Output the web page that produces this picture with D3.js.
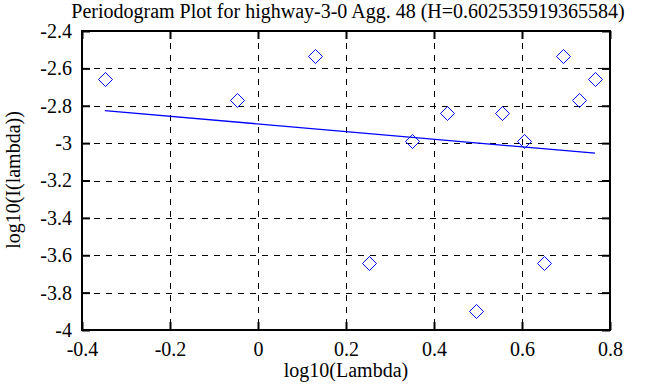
<!DOCTYPE html>
<html>
<head>
<meta charset="utf-8">
<script src="https://cdn.jsdelivr.net/npm/d3@7"></script>
<style>
body { margin: 0; background: #fff; }
</style>
</head>
<body>
<script>
var width = 663
var height = 387
var left = 82, top_ = 31, right = 610, bottom = 330
var fontFam = "Liberation Serif, Times New Roman, serif"

var title = "Periodogram Plot for highway-3-0 Agg. 48 (H=0.602535919365584)"
var logLambda = [-0.348, -0.047, 0.130, 0.253, 0.351, 0.429, 0.495, 0.555, 0.605, 0.651, 0.693, 0.730, 0.766]
var logI = [-2.658, -2.769, -2.534, -3.643, -2.989, -2.837, -3.898, -2.837, -2.987, -3.643, -2.534, -2.769, -2.657]
var fitX = [-0.348, 0.766]
var fitY = [-2.826, -3.054]
var xTicks = [-0.4, -0.2, 0, 0.2, 0.4, 0.6, 0.8]
var yTicks = [-2.4, -2.6, -2.8, -3, -3.2, -3.4, -3.6, -3.8, -4]

var x = d3.scaleLinear().domain([-0.4, 0.8]).range([left, right])
var y = d3.scaleLinear().domain([-4, -2.4]).range([bottom, top_])
var fmt = function(d) { return String(d) }

var svg = d3.select("body").append("svg")
.attr("width", width)
.attr("height", height)

// grid
svg.append("g").selectAll("line")
.data(xTicks.slice(1, -1))
.enter().append("line")
.attr("x1", function(d) { return Math.round(x(d)) + 0.5 })
.attr("x2", function(d) { return Math.round(x(d)) + 0.5 })
.attr("y1", top_).attr("y2", bottom)
.attr("stroke", "black").attr("stroke-dasharray", "6,6")

svg.append("g").selectAll("line")
.data(yTicks.slice(1, -1))
.enter().append("line")
.attr("y1", function(d) { return Math.round(y(d)) + 0.5 })
.attr("y2", function(d) { return Math.round(y(d)) + 0.5 })
.attr("x1", left).attr("x2", right)
.attr("stroke", "black").attr("stroke-dasharray", "6,6")

// inward ticks on all sides
svg.append("g")
.attr("transform", "translate(0," + bottom + ")")
.call(d3.axisBottom(x).tickValues(xTicks).tickSize(-8).tickPadding(12).tickFormat(fmt))
svg.append("g")
.attr("transform", "translate(0," + top_ + ")")
.call(d3.axisTop(x).tickValues(xTicks).tickSize(-8).tickFormat(""))
svg.append("g")
.attr("transform", "translate(" + left + ",0)")
.call(d3.axisLeft(y).tickValues(yTicks).tickSize(-8).tickPadding(10).tickFormat(fmt))
svg.append("g")
.attr("transform", "translate(" + right + ",0)")
.call(d3.axisRight(y).tickValues(yTicks).tickSize(-8).tickFormat(""))

svg.selectAll(".domain").remove()
svg.selectAll("g").attr("font-family", fontFam).attr("font-size", 20)
svg.selectAll(".tick line").attr("stroke", "black").attr("stroke-width", 2)
svg.selectAll(".tick text").attr("fill", "black")

// frame
svg.append("rect")
.attr("x", left).attr("y", top_)
.attr("width", right - left).attr("height", bottom - top_)
.attr("fill", "none").attr("stroke", "black").attr("stroke-width", 2)

// fitted line
svg.append("line")
.attr("x1", x(fitX[0])).attr("y1", y(fitY[0]))
.attr("x2", x(fitX[1])).attr("y2", y(fitY[1]))
.attr("stroke", "blue").attr("stroke-width", 1.3)

// diamonds
svg.append("g").selectAll("path")
.data(logLambda)
.enter().append("path")
.attr("d", function(d, i) {
    var cx = Math.round(x(d)) + 0.5, cy = Math.round(y(logI[i])) + 0.5, r = 7
    return "M" + cx + "," + (cy - r) + "L" + (cx + r) + "," + cy + "L" + cx + "," + (cy + r) + "L" + (cx - r) + "," + cy + "Z"
})
.attr("fill", "none").attr("stroke", "blue").attr("stroke-width", 1)

svg.append("text")
.attr("x", 348).attr("y", 18)
.attr("text-anchor", "middle")
.attr("font-family", fontFam)
.attr("font-size", 20)
.text(title)

svg.append("text")
.attr("x", 346).attr("y", 377)
.attr("text-anchor", "middle")
.attr("font-family", fontFam)
.attr("font-size", 20)
.text("log10(Lambda)")

svg.append("text")
.attr("transform", "translate(20," + 180 + ") rotate(-90)")
.attr("text-anchor", "middle")
.attr("font-family", fontFam)
.attr("font-size", 20)
.text("log10(I(lambda))")
</script>
</body>
</html>
